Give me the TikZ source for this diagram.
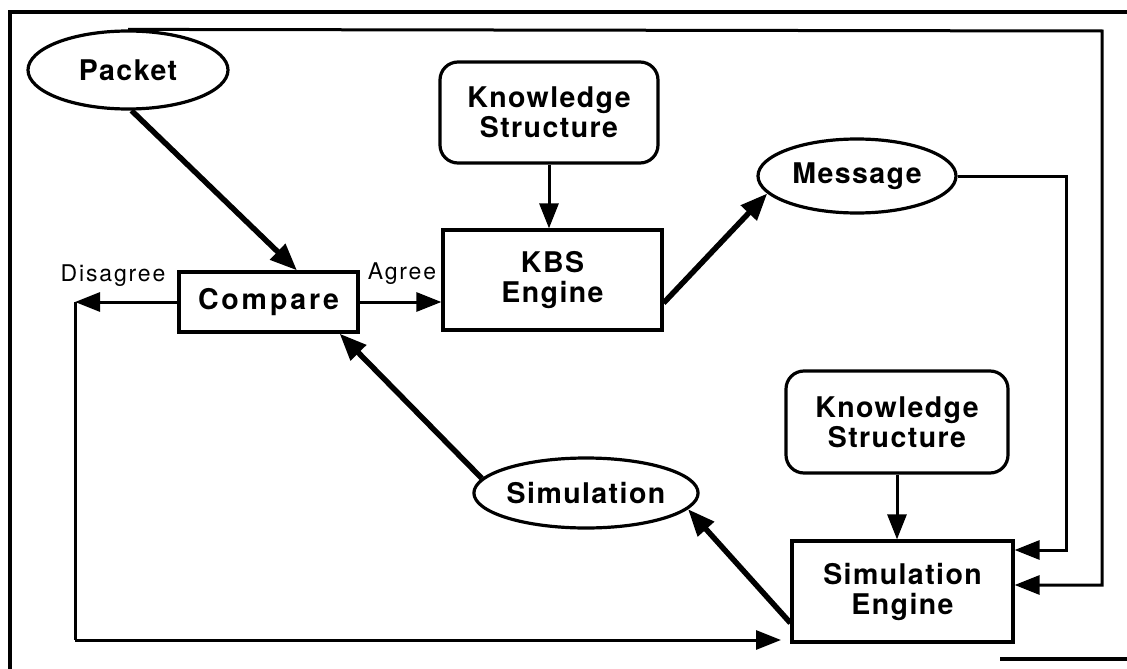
\documentclass[tikz,border=0pt]{standalone}
\usepackage{fontspec}
\setmainfont{TeX Gyre Heros}
\usetikzlibrary{arrows.meta,shapes.geometric,calc}
\begin{document}
\begin{tikzpicture}[x=1pt,y=-1pt,
  lbl/.style={font=\fontsize{28.5}{30}\selectfont\bfseries\addfontfeature{LetterSpace=5}, align=center, inner sep=0pt},
  oval/.style={lbl, draw, line width=3.2pt, ellipse},
  box/.style={lbl, draw, line width=3.2pt, rectangle},
  rbox/.style={box, rounded corners=18pt},
  small/.style={font=\fontsize{23}{26}\selectfont\addfontfeature{LetterSpace=8}, inner sep=0pt, anchor=base},
  thinarr/.style={line width=3pt, -{Triangle[length=25pt,width=19pt]}},
  thickarr/.style={line width=5.5pt, -{Triangle[length=27pt,width=21pt]}},
  plain/.style={line width=3pt},
  frame/.style={line width=3.4pt}]
\useasboundingbox (0,0) rectangle (1127,669);
% frame
\draw[frame] (10,669) -- (10,12) -- (1127,12);
\draw[frame] (1000,659) -- (1127,659);
% nodes
\node[oval, minimum width=200pt, minimum height=78pt] (packet) at (128,70) {Packet};
\node[rbox, minimum width=218pt, minimum height=101pt] (ks1) at (549,112.5) {Knowledge\\Structure};
\node[box, minimum width=219pt, minimum height=100pt] (kbs) at (552.5,280) {KBS\\Engine};
\node[box, minimum width=179pt, minimum height=60pt, font=\fontsize{28.5}{30}\selectfont\bfseries\addfontfeature{LetterSpace=10}] (compare) at (268.5,302) {Compare};
\node[oval, minimum width=198pt, minimum height=74pt] (message) at (857,176) {Message};
\node[rbox, minimum width=222pt, minimum height=102pt] (ks2) at (897,422) {Knowledge\\Structure};
\node[oval, minimum width=197pt, minimum height=70pt] (sim) at (586,493) {Simulation};
\node[box, minimum width=221pt, minimum height=101pt] (simeng) at (902.5,591.5) {Simulation\\Engine};
% labels
\node[small] (dlab) at (113,281) {Disagree};
\node[small] (alab) at (402,279) {Agree};
% coordinates
\coordinate (dis) at (75,302);
\coordinate (bl) at (75,640);
\coordinate (botarrow) at (781,640);
% connectors
\draw[thickarr] (packet.-85) -- ($(compare.north)+(28.5,0)$);
\draw[thinarr] (compare.east) -- (compare.east -| kbs.west);
\draw[thinarr] (compare.west) -- (dis);
\draw[plain] (dis) -- (bl);
\draw[thinarr] (bl) -- (botarrow);
\draw[thinarr] (ks1.south) -- (ks1.south |- kbs.north);
\draw[thickarr] ($(kbs.east)+(0,23)$) -- (message.191);
\draw[thinarr] (message.east) -- ++(109,0) |- ($(simeng.east)+(0,-41.5)$);
\draw[thinarr] (packet.north) -- (1102,31) |- ($(simeng.east)+(0,-6.5)$);
\draw[thinarr] (ks2.south) -- (ks2.south |- simeng.north);
\draw[thickarr] ($(simeng.west)+(0,31.5)$) -- (sim.-9);
\draw[thickarr] (sim.172) -- ($(compare.south east)+(-20,0)$);
\end{tikzpicture}
\end{document}
